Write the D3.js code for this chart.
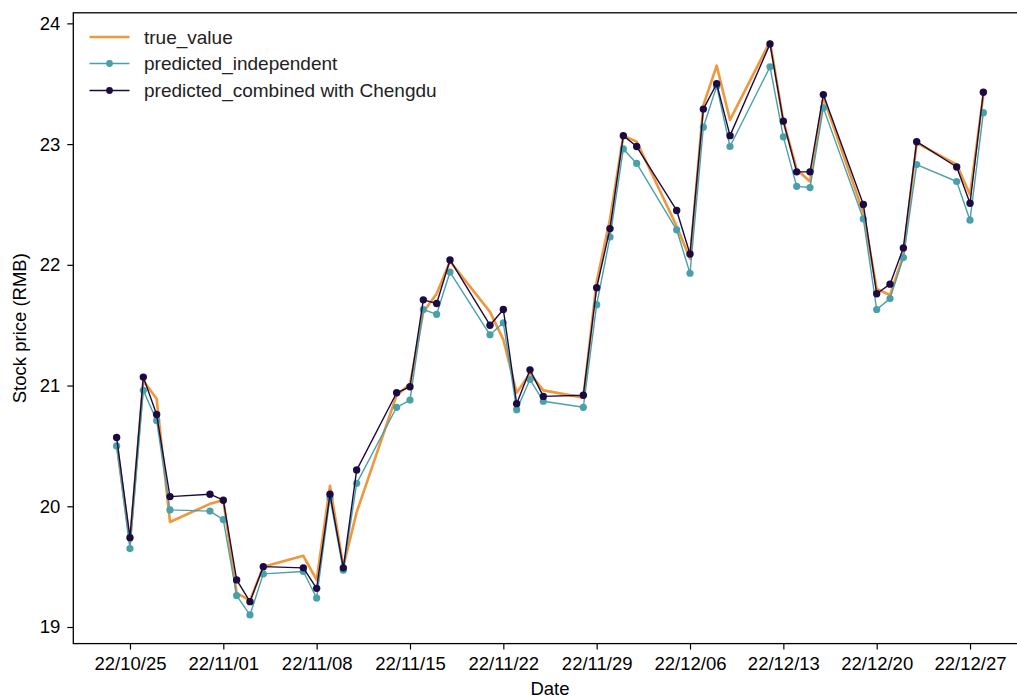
<!DOCTYPE html>
<html>
<head>
<meta charset="utf-8">
<script src="https://cdn.jsdelivr.net/npm/d3@7"></script>
<style>
  html, body { margin: 0; padding: 0; background: #fff; }
  svg { display: block; font-family: "Liberation Sans", Arial, Helvetica, sans-serif; }
</style>
</head>
<body>
<svg id="chart" width="1017" height="698"></svg>
<script>
// Trading days
const dates = [
  "2022-10-24","2022-10-25","2022-10-26","2022-10-27","2022-10-28","2022-10-31",
  "2022-11-01","2022-11-02","2022-11-03","2022-11-04","2022-11-07","2022-11-08",
  "2022-11-09","2022-11-10","2022-11-11","2022-11-14","2022-11-15","2022-11-16",
  "2022-11-17","2022-11-18","2022-11-21","2022-11-22","2022-11-23","2022-11-24",
  "2022-11-25","2022-11-28","2022-11-29","2022-11-30","2022-12-01","2022-12-02",
  "2022-12-05","2022-12-06","2022-12-07","2022-12-08","2022-12-09","2022-12-12",
  "2022-12-13","2022-12-14","2022-12-15","2022-12-16","2022-12-19","2022-12-20",
  "2022-12-21","2022-12-22","2022-12-23","2022-12-26","2022-12-27","2022-12-28"
];

// Closing price
const trueValue = [
  20.52, 19.70, 21.04, 20.89, 19.87, 20.02,
  20.05, 19.28, 19.22, 19.50, 19.59, 19.39,
  20.17, 19.50, 19.95, 20.92, 21.01, 21.61,
  21.76, 22.03, 21.61, 21.38, 20.94, 21.10,
  20.96, 20.90, 21.86, 22.38, 23.07, 23.02,
  22.32, 22.05, 23.32, 23.65, 23.20, 23.85,
  23.19, 22.79, 22.69, 23.39, 22.43, 21.80,
  21.75, 22.08, 23.01, 22.83, 22.58, 23.41
];

// Model trained on this stock alone
const predictedIndependent = [
  20.50, 19.65, 20.96, 20.71, 19.97, 19.96,
  19.89, 19.26, 19.10, 19.44, 19.46, 19.24,
  20.07, 19.47, 20.19, 20.82, 20.88, 21.63,
  21.59, 21.94, 21.42, 21.52, 20.80, 21.05,
  20.87, 20.82, 21.67, 22.23, 22.96, 22.84,
  22.29, 21.93, 23.14, 23.48, 22.98, 23.64,
  23.06, 22.65, 22.64, 23.30, 22.38, 21.63,
  21.72, 22.06, 22.83, 22.69, 22.37, 23.26
];

// Model trained together with Chengdu data
const predictedCombined = [
  20.57, 19.74, 21.07, 20.76, 20.08, 20.10,
  20.05, 19.39, 19.21, 19.50, 19.49, 19.32,
  20.10, 19.49, 20.30, 20.94, 20.99, 21.71,
  21.68, 22.04, 21.50, 21.63, 20.85, 21.13,
  20.91, 20.92, 21.81, 22.30, 23.07, 22.98,
  22.45, 22.09, 23.29, 23.50, 23.07, 23.83,
  23.19, 22.77, 22.77, 23.41, 22.50, 21.76,
  21.84, 22.14, 23.02, 22.81, 22.51, 23.43
];

const xTickDates = [
  "2022-10-25","2022-11-01","2022-11-08","2022-11-15","2022-11-22",
  "2022-11-29","2022-12-06","2022-12-13","2022-12-20","2022-12-27"
];
const yTickValues = [19, 20, 21, 22, 23, 24];

const seriesNames = ["true_value", "predicted_independent", "predicted_combined with Chengdu"];

(function draw() {
  const parse = d3.utcParse("%Y-%m-%d");
  const days = dates.map(parse);

  const svg = d3.select("#chart");
  const plotLeft = 73.3, plotRight = 1026.7, plotTop = 12.8, plotBottom = 643.6;
  const FS = 18.5;

  // 5% padding on both axes
  const xExt = d3.extent(days);
  const xPad = (xExt[1] - xExt[0]) * 0.05;
  const x = d3.scaleUtc()
    .domain([new Date(+xExt[0] - xPad), new Date(+xExt[1] + xPad)])
    .range([plotLeft, plotRight]);

  const allY = trueValue.concat(predictedIndependent, predictedCombined);
  const yMin = d3.min(allY), yMax = d3.max(allY);
  const yPad = (yMax - yMin) * 0.05;
  const y = d3.scaleLinear()
    .domain([yMin - yPad, yMax + yPad])
    .range([plotBottom, plotTop]);

  const colors = {
    truth: "#ef973a",
    indep: "#4aa0a8",
    comb: "#1c0b40"
  };

  const g = svg.append("g");

  const line = vals => d3.line()
    .x((d, i) => x(days[i]))
    .y(d => y(d))(vals);

  g.append("path")
    .attr("d", line(trueValue))
    .attr("fill", "none")
    .attr("stroke", colors.truth)
    .attr("stroke-width", 2.6)
    .attr("stroke-linejoin", "round");

  g.append("path")
    .attr("d", line(predictedIndependent))
    .attr("fill", "none")
    .attr("stroke", colors.indep)
    .attr("stroke-width", 1.4)
    .attr("stroke-linejoin", "round");

  g.selectAll("circle.indep")
    .data(predictedIndependent)
    .join("circle")
    .attr("class", "indep")
    .attr("cx", (d, i) => x(days[i]))
    .attr("cy", d => y(d))
    .attr("r", 3.6)
    .attr("fill", colors.indep);

  g.append("path")
    .attr("d", line(predictedCombined))
    .attr("fill", "none")
    .attr("stroke", colors.comb)
    .attr("stroke-width", 1.4)
    .attr("stroke-linejoin", "round");

  g.selectAll("circle.comb")
    .data(predictedCombined)
    .join("circle")
    .attr("class", "comb")
    .attr("cx", (d, i) => x(days[i]))
    .attr("cy", d => y(d))
    .attr("r", 3.7)
    .attr("fill", colors.comb);

  // Axes
  const fmt = d3.utcFormat("%y/%m/%d");
  const xg = svg.append("g")
    .attr("transform", `translate(0,${plotBottom})`)
    .call(d3.axisBottom(x)
      .tickValues(xTickDates.map(parse))
      .tickFormat(fmt)
      .tickSize(6)
      .tickPadding(7));

  const yg = svg.append("g")
    .attr("transform", `translate(${plotLeft},0)`)
    .call(d3.axisLeft(y)
      .tickValues(yTickValues)
      .tickFormat(d3.format("d"))
      .tickSize(6)
      .tickPadding(7));

  [xg, yg].forEach(a => {
    a.select(".domain").remove();
    a.selectAll(".tick line").attr("stroke", "#000").attr("stroke-width", 1.2);
    a.selectAll(".tick text")
      .attr("fill", "#000")
      .style("font-size", FS + "px")
      .style("font-family", '"Liberation Sans", Arial, sans-serif');
  });

  // Frame
  svg.append("rect")
    .attr("x", plotLeft)
    .attr("y", plotTop)
    .attr("width", plotRight - plotLeft)
    .attr("height", plotBottom - plotTop)
    .attr("fill", "none")
    .attr("stroke", "#000")
    .attr("stroke-width", 1.3);

  // Axis titles
  svg.append("text")
    .attr("x", (plotLeft + plotRight) / 2)
    .attr("y", 695)
    .attr("text-anchor", "middle")
    .style("font-size", FS + "px")
    .attr("fill", "#000")
    .text("Date");

  svg.append("text")
    .attr("transform", `translate(26,${(plotTop + plotBottom) / 2}) rotate(-90)`)
    .attr("text-anchor", "middle")
    .style("font-size", FS + "px")
    .attr("fill", "#000")
    .text("Stock price (RMB)");

  // Legend
  const legend = svg.append("g");
  const rows = [
    { name: seriesNames[0], color: colors.truth, width: 2.6, marker: false, r: 0 },
    { name: seriesNames[1], color: colors.indep, width: 1.4, marker: true, r: 3.4 },
    { name: seriesNames[2], color: colors.comb, width: 1.4, marker: true, r: 3.4 }
  ];
  const rowY = [37, 63.5, 90.5];
  rows.forEach((r, i) => {
    const ly = rowY[i];
    legend.append("line")
      .attr("x1", 89.5).attr("x2", 129.5)
      .attr("y1", ly).attr("y2", ly)
      .attr("stroke", r.color)
      .attr("stroke-width", r.width);
    if (r.marker) {
      legend.append("circle")
        .attr("cx", 109.5).attr("cy", ly)
        .attr("r", r.r)
        .attr("fill", r.color);
    }
    legend.append("text")
      .attr("x", 144)
      .attr("y", ly)
      .attr("dy", "0.35em")
      .style("font-size", "19px")
      .attr("fill", "#222")
      .text(r.name);
  });
})();
</script>
</body>
</html>
